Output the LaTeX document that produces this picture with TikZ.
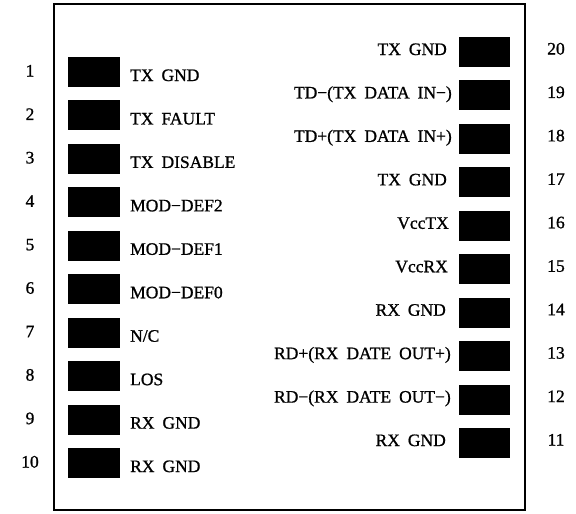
\documentclass[tikz,border=0pt]{standalone}
\usepackage{fontspec}
\setmainfont{Liberation Serif}[FakeBold=1]
\newcommand\pinlblfont{\fontsize{17.5}{21}\selectfont\spaceskip 8pt\relax}
\begin{document}
\begin{tikzpicture}[x=1pt,y=-1pt,
  pad/.style={draw=none,fill=black,minimum width=52pt,minimum height=30pt,inner sep=0pt},
  lbl/.style={inner sep=0pt,font=\pinlblfont},
  num/.style={inner sep=0pt,anchor=base,font=\fontsize{17.5}{21}\selectfont}]
\useasboundingbox (0,0) rectangle (576,514);
\node[draw,line width=1.1pt,minimum width=471pt,minimum height=506pt,inner sep=0pt] (box) at (289.5,257) {};
% left side pins 1..10
\foreach \i/\t in {1/{TX GND},2/{TX FAULT},3/{TX DISABLE},4/{MOD−DEF2},5/{MOD−DEF1},6/{MOD−DEF0},7/{N/C},8/{LOS},9/{RX GND},10/{RX GND}}{
  \pgfmathsetmacro{\c}{72+(\i-1)*43.45}
  \node[pad] (p\i) at (94,\c) {};
  \node[lbl,anchor=base west] (l\i) at (130,\c+9) {\t};
  \node[num] (n\i) at (30,\c+4.5) {\i};
}
% right side pins 20..11
\foreach \i/\t/\e in {20/{TX GND}/447,19/{TD−(TX DATA IN−)}/452,18/{TD+(TX DATA IN+)}/452,17/{TX GND}/447,16/{VccTX}/449,15/{VccRX}/448,14/{RX GND}/446,13/{RD+(RX DATE OUT+)}/451,12/{RD−(RX DATE OUT−)}/451,11/{RX GND}/446}{
  \pgfmathsetmacro{\c}{52+(20-\i)*43.45}
  \node[pad,minimum width=51pt] (p\i) at (484.5,\c) {};
  \node[lbl,anchor=base east] (l\i) at (\e,\c+3) {\t};
  \node[num] (n\i) at (556,\c+2.5) {\i};
}
\end{tikzpicture}
\end{document}
